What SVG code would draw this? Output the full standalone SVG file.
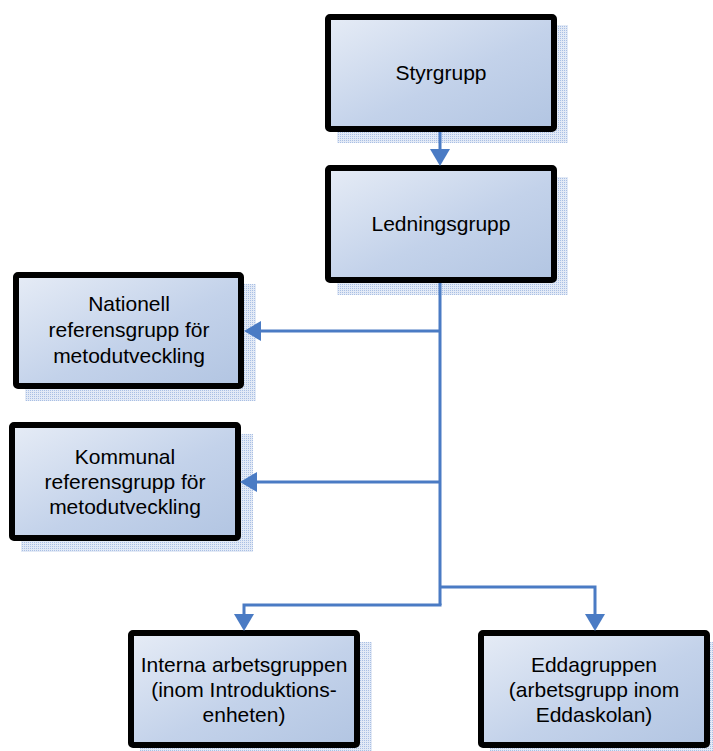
<svg xmlns="http://www.w3.org/2000/svg" width="713" height="751" viewBox="0 0 713 751">
<defs>
<linearGradient id="fillGrad" x1="0" y1="0" x2="1" y2="1">
<stop offset="0" stop-color="#e6ecf6"/>
<stop offset="0.55" stop-color="#c3d2ea"/>
<stop offset="1" stop-color="#b2c5e2"/>
</linearGradient>
<pattern id="dots" width="2" height="2" patternUnits="userSpaceOnUse">
<rect width="2" height="2" fill="#e3eaf6"/>
<rect width="1" height="1" fill="#a9bfe4"/>
</pattern>
<marker id="arrow" markerUnits="userSpaceOnUse" markerWidth="18" markerHeight="20" viewBox="0 -10 18 20" refX="0" refY="0" orient="auto" overflow="visible">
<path d="M0,-10 L17,0 L0,10 Z" fill="#4a7bc4"/>
</marker>
</defs>
<style>
.shadow{fill:url(#dots);}
.box{fill:url(#fillGrad);stroke:#000;stroke-width:6;}
.label{font-family:"Liberation Sans",Arial,sans-serif;font-size:21px;fill:#000;text-anchor:middle;}
.conn{fill:none;stroke:#4a7bc4;stroke-width:3;marker-end:url(#arrow);}
.trunk{fill:none;stroke:#4a7bc4;stroke-width:3;}
</style>
<rect width="713" height="751" fill="#fff"/>

<g id="styrgrupp">
<rect class="shadow" x="337" y="25" width="231" height="118"/>
<rect class="box" x="328" y="17" width="226" height="112" rx="2"/>
<text class="label" x="441" y="80">Styrgrupp</text>
</g>

<g id="ledningsgrupp">
<rect class="shadow" x="337" y="177" width="231" height="118"/>
<rect class="box" x="328" y="168" width="226" height="112" rx="2"/>
<text class="label" x="441" y="231">Ledningsgrupp</text>
</g>

<g id="nationell">
<rect class="shadow" x="25" y="284" width="231" height="117"/>
<rect class="box" x="16" y="275" width="225" height="111" rx="2"/>
<text class="label" x="129" y="311">Nationell</text>
<text class="label" x="129" y="337">referensgrupp för</text>
<text class="label" x="129" y="363">metodutveckling</text>
</g>

<g id="kommunal">
<rect class="shadow" x="21" y="434" width="232" height="118"/>
<rect class="box" x="12" y="425" width="226" height="113" rx="2"/>
<text class="label" x="125" y="464">Kommunal</text>
<text class="label" x="125" y="489">referensgrupp för</text>
<text class="label" x="125" y="514">metodutveckling</text>
</g>

<g id="interna">
<rect class="shadow" x="140" y="642" width="232" height="118"/>
<rect class="box" x="131" y="633" width="226" height="112" rx="2"/>
<text class="label" x="244" y="672">Interna arbetsgruppen</text>
<text class="label" x="244" y="697">(inom Introduktions-</text>
<text class="label" x="244" y="722">enheten)</text>
</g>

<g id="eddagruppen">
<rect class="shadow" x="490" y="642" width="232" height="118"/>
<rect class="box" x="481" y="633" width="226" height="112" rx="2"/>
<text class="label" x="594" y="672">Eddagruppen</text>
<text class="label" x="594" y="697">(arbetsgrupp inom</text>
<text class="label" x="594" y="722">Eddaskolan)</text>
</g>

<g id="connectors">
<path class="conn" d="M440,132 V149"/>
<path class="trunk" d="M440,283 V605"/>
<path class="conn" d="M440,331 H261"/>
<path class="conn" d="M440,482 H257"/>
<path class="conn" d="M441.5,605 H244 V614"/>
<path class="conn" d="M440,587 H595 V614"/>
</g>
</svg>
